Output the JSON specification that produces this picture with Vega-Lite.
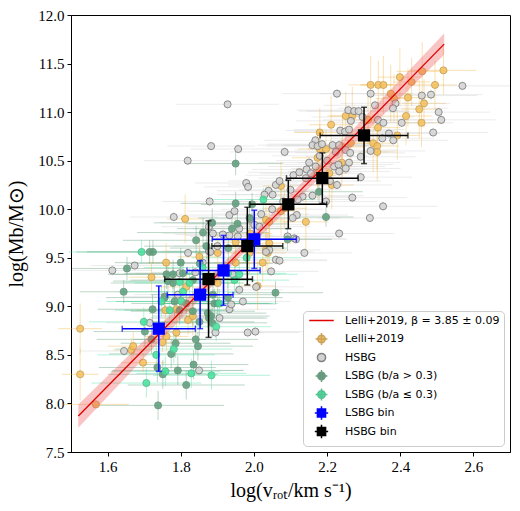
{
"$schema": "https://vega.github.io/schema/vega-lite/v6.json",
"width": 439, "height": 437,
"autosize": {"type": "none"},
"padding": {"left": 71, "top": 15, "right": 10, "bottom": 59},
"background": "white",
"config": {
 "view": {"stroke": "#000000", "strokeWidth": 1},
 "axis": {"grid": false, "labelFont": "Liberation Serif", "labelFontSize": 15, "labelColor": "#000", "tickColor": "#000", "domainColor": "#000", "tickSize": 4, "labelPadding": 3, "titleFont": "Liberation Serif", "titleFontSize": 20, "titleFontWeight": "normal", "titleColor": "#000"}
},
"datasets": {
 "pts": [
{"g":"L","x":1.525,"y":8.77,"xe":0.06,"ye":0.26},
{"g":"L","x":1.525,"y":8.30,"xe":0.05,"ye":0.27},
{"g":"L","x":1.568,"y":7.99,"xe":0.09,"ye":0.04},
{"g":"L","x":1.665,"y":8.55,"xe":0.05,"ye":0.12},
{"g":"L","x":1.670,"y":8.59,"xe":0.07,"ye":0.15},
{"g":"L","x":1.697,"y":8.42,"xe":0.06,"ye":0.1},
{"g":"L","x":1.750,"y":8.63,"xe":0.05,"ye":0.1},
{"g":"L","x":1.761,"y":8.69,"xe":0.06,"ye":0.15},
{"g":"L","x":1.788,"y":8.73,"xe":0.04,"ye":0.12},
{"g":"L","x":1.758,"y":8.96,"xe":0.08,"ye":0.15},
{"g":"L","x":1.788,"y":8.97,"xe":0.05,"ye":0.12},
{"g":"L","x":1.820,"y":8.86,"xe":0.06,"ye":0.15},
{"g":"L","x":1.833,"y":8.90,"xe":0.05,"ye":0.2},
{"g":"L","x":1.815,"y":9.20,"xe":0.07,"ye":0.18},
{"g":"L","x":1.720,"y":9.30,"xe":0.06,"ye":0.15},
{"g":"L","x":1.760,"y":9.45,"xe":0.05,"ye":0.2},
{"g":"L","x":1.812,"y":9.90,"xe":0.05,"ye":0.25},
{"g":"L","x":1.851,"y":9.51,"xe":0.06,"ye":0.2},
{"g":"L","x":1.901,"y":9.24,"xe":0.07,"ye":0.2},
{"g":"L","x":1.901,"y":9.55,"xe":0.06,"ye":0.2},
{"g":"L","x":1.950,"y":9.66,"xe":0.05,"ye":0.25},
{"g":"L","x":1.950,"y":9.45,"xe":0.06,"ye":0.2},
{"g":"L","x":1.988,"y":9.55,"xe":0.05,"ye":0.22},
{"g":"L","x":1.990,"y":9.75,"xe":0.06,"ye":0.2},
{"g":"L","x":2.010,"y":9.21,"xe":0.05,"ye":0.25},
{"g":"L","x":2.024,"y":9.45,"xe":0.06,"ye":0.2},
{"g":"L","x":2.033,"y":9.58,"xe":0.05,"ye":0.22},
{"g":"L","x":2.038,"y":9.55,"xe":0.05,"ye":0.2},
{"g":"L","x":2.042,"y":9.65,"xe":0.06,"ye":0.2},
{"g":"L","x":2.033,"y":9.89,"xe":0.05,"ye":0.25},
{"g":"L","x":2.042,"y":9.87,"xe":0.06,"ye":0.2},
{"g":"L","x":2.074,"y":9.98,"xe":0.05,"ye":0.25},
{"g":"L","x":2.083,"y":10.01,"xe":0.06,"ye":0.2},
{"g":"L","x":2.074,"y":10.24,"xe":0.05,"ye":0.25},
{"g":"L","x":2.142,"y":9.87,"xe":0.06,"ye":0.3},
{"g":"L","x":2.174,"y":10.35,"xe":0.05,"ye":0.25},
{"g":"L","x":2.175,"y":10.42,"xe":0.06,"ye":0.2},
{"g":"L","x":2.206,"y":10.37,"xe":0.05,"ye":0.3},
{"g":"L","x":2.213,"y":10.25,"xe":0.06,"ye":0.25},
{"g":"L","x":2.174,"y":10.53,"xe":0.07,"ye":0.3},
{"g":"L","x":2.240,"y":10.48,"xe":0.05,"ye":0.25},
{"g":"L","x":2.180,"y":10.62,"xe":0.06,"ye":0.25},
{"g":"L","x":2.197,"y":10.62,"xe":0.05,"ye":0.2},
{"g":"L","x":2.242,"y":10.64,"xe":0.06,"ye":0.3},
{"g":"L","x":2.265,"y":10.68,"xe":0.05,"ye":0.25},
{"g":"L","x":2.180,"y":10.79,"xe":0.07,"ye":0.25},
{"g":"L","x":2.211,"y":10.87,"xe":0.06,"ye":0.3},
{"g":"L","x":2.251,"y":10.96,"xe":0.05,"ye":0.25},
{"g":"L","x":2.269,"y":10.96,"xe":0.06,"ye":0.3},
{"g":"L","x":2.312,"y":10.92,"xe":0.05,"ye":0.25},
{"g":"L","x":2.339,"y":10.84,"xe":0.06,"ye":0.3},
{"g":"L","x":2.326,"y":10.68,"xe":0.05,"ye":0.3},
{"g":"L","x":2.337,"y":10.65,"xe":0.06,"ye":0.25},
{"g":"L","x":2.337,"y":10.59,"xe":0.05,"ye":0.3},
{"g":"L","x":2.392,"y":10.76,"xe":0.06,"ye":0.25},
{"g":"L","x":2.416,"y":10.96,"xe":0.07,"ye":0.3},
{"g":"L","x":2.458,"y":10.89,"xe":0.06,"ye":0.25},
{"g":"L","x":2.452,"y":11.03,"xe":0.05,"ye":0.3},
{"g":"L","x":2.465,"y":11.09,"xe":0.06,"ye":0.25},
{"g":"L","x":2.421,"y":11.15,"xe":0.07,"ye":0.3},
{"g":"L","x":2.374,"y":11.19,"xe":0.06,"ye":0.3},
{"g":"L","x":2.383,"y":11.14,"xe":0.05,"ye":0.25},
{"g":"L","x":2.319,"y":11.28,"xe":0.06,"ye":0.3},
{"g":"L","x":2.340,"y":11.28,"xe":0.05,"ye":0.25},
{"g":"L","x":2.354,"y":11.28,"xe":0.06,"ye":0.3},
{"g":"L","x":2.399,"y":11.36,"xe":0.06,"ye":0.3},
{"g":"L","x":2.431,"y":11.31,"xe":0.05,"ye":0.25},
{"g":"L","x":2.495,"y":11.28,"xe":0.06,"ye":0.25},
{"g":"L","x":2.460,"y":11.42,"xe":0.07,"ye":0.3},
{"g":"L","x":2.518,"y":11.43,"xe":0.09,"ye":0.25},
{"g":"H","x":1.928,"y":11.08,"xe":0.14,"ye":0.05},
{"g":"H","x":1.883,"y":10.65,"xe":0.12,"ye":0.05},
{"g":"H","x":1.957,"y":10.62,"xe":0.13,"ye":0.05},
{"g":"H","x":1.819,"y":10.50,"xe":0.12,"ye":0.05},
{"g":"H","x":2.084,"y":10.59,"xe":0.15,"ye":0.05},
{"g":"H","x":1.979,"y":10.27,"xe":0.14,"ye":0.05},
{"g":"H","x":1.984,"y":10.23,"xe":0.12,"ye":0.05},
{"g":"H","x":1.879,"y":10.08,"xe":0.13,"ye":0.05},
{"g":"H","x":1.781,"y":9.92,"xe":0.12,"ye":0.05},
{"g":"H","x":1.820,"y":9.55,"xe":0.12,"ye":0.05},
{"g":"H","x":1.877,"y":9.57,"xe":0.13,"ye":0.05},
{"g":"H","x":1.674,"y":9.42,"xe":0.12,"ye":0.05},
{"g":"H","x":1.613,"y":9.37,"xe":0.11,"ye":0.05},
{"g":"H","x":1.645,"y":8.54,"xe":0.12,"ye":0.05},
{"g":"H","x":1.850,"y":8.34,"xe":0.12,"ye":0.05},
{"g":"H","x":1.895,"y":8.73,"xe":0.13,"ye":0.05},
{"g":"H","x":1.983,"y":8.73,"xe":0.14,"ye":0.05},
{"g":"H","x":2.004,"y":8.74,"xe":0.13,"ye":0.05},
{"g":"H","x":1.906,"y":8.88,"xe":0.12,"ye":0.05},
{"g":"H","x":1.797,"y":9.34,"xe":0.12,"ye":0.05},
{"g":"H","x":1.942,"y":9.33,"xe":0.13,"ye":0.05},
{"g":"H","x":1.960,"y":9.17,"xe":0.12,"ye":0.05},
{"g":"H","x":2.006,"y":9.20,"xe":0.13,"ye":0.05},
{"g":"H","x":1.715,"y":8.83,"xe":0.12,"ye":0.05},
{"g":"H","x":2.570,"y":11.27,"xe":0.13,"ye":0.05},
{"g":"H","x":2.227,"y":11.19,"xe":0.15,"ye":0.05},
{"g":"H","x":2.319,"y":11.19,"xe":0.14,"ye":0.05},
{"g":"H","x":2.459,"y":11.17,"xe":0.15,"ye":0.05},
{"g":"H","x":2.484,"y":11.18,"xe":0.14,"ye":0.05},
{"g":"H","x":2.387,"y":11.09,"xe":0.15,"ye":0.05},
{"g":"H","x":2.331,"y":11.07,"xe":0.14,"ye":0.05},
{"g":"H","x":2.380,"y":11.04,"xe":0.15,"ye":0.05},
{"g":"H","x":2.505,"y":11.00,"xe":0.14,"ye":0.05},
{"g":"H","x":2.512,"y":10.92,"xe":0.15,"ye":0.05},
{"g":"H","x":2.404,"y":10.89,"xe":0.14,"ye":0.05},
{"g":"H","x":2.490,"y":10.79,"xe":0.15,"ye":0.05},
{"g":"H","x":2.258,"y":11.02,"xe":0.14,"ye":0.05},
{"g":"H","x":2.274,"y":11.01,"xe":0.15,"ye":0.05},
{"g":"H","x":2.286,"y":11.01,"xe":0.14,"ye":0.05},
{"g":"H","x":2.265,"y":10.91,"xe":0.15,"ye":0.05},
{"g":"H","x":2.297,"y":10.95,"xe":0.14,"ye":0.05},
{"g":"H","x":2.339,"y":10.92,"xe":0.15,"ye":0.05},
{"g":"H","x":2.354,"y":10.89,"xe":0.14,"ye":0.05},
{"g":"H","x":2.236,"y":10.81,"xe":0.15,"ye":0.05},
{"g":"H","x":2.249,"y":10.80,"xe":0.14,"ye":0.05},
{"g":"H","x":2.260,"y":10.82,"xe":0.15,"ye":0.05},
{"g":"H","x":2.369,"y":10.78,"xe":0.14,"ye":0.05},
{"g":"H","x":2.381,"y":10.71,"xe":0.15,"ye":0.05},
{"g":"H","x":2.351,"y":10.73,"xe":0.14,"ye":0.05},
{"g":"H","x":2.319,"y":10.60,"xe":0.15,"ye":0.05},
{"g":"H","x":2.168,"y":10.71,"xe":0.14,"ye":0.05},
{"g":"H","x":2.160,"y":10.66,"xe":0.15,"ye":0.05},
{"g":"H","x":2.174,"y":10.65,"xe":0.14,"ye":0.05},
{"g":"H","x":2.186,"y":10.67,"xe":0.15,"ye":0.05},
{"g":"H","x":2.215,"y":10.66,"xe":0.14,"ye":0.05},
{"g":"H","x":2.233,"y":10.66,"xe":0.15,"ye":0.05},
{"g":"H","x":2.251,"y":10.61,"xe":0.14,"ye":0.05},
{"g":"H","x":2.263,"y":10.58,"xe":0.15,"ye":0.05},
{"g":"H","x":2.224,"y":10.59,"xe":0.14,"ye":0.05},
{"g":"H","x":2.292,"y":10.54,"xe":0.15,"ye":0.05},
{"g":"H","x":2.151,"y":10.48,"xe":0.14,"ye":0.05},
{"g":"H","x":2.144,"y":10.41,"xe":0.15,"ye":0.05},
{"g":"H","x":2.260,"y":10.48,"xe":0.14,"ye":0.05},
{"g":"H","x":2.251,"y":10.42,"xe":0.15,"ye":0.05},
{"g":"H","x":2.233,"y":10.39,"xe":0.14,"ye":0.05},
{"g":"H","x":2.227,"y":10.25,"xe":0.15,"ye":0.05},
{"g":"H","x":2.208,"y":10.29,"xe":0.14,"ye":0.05},
{"g":"H","x":2.269,"y":10.12,"xe":0.15,"ye":0.05},
{"g":"H","x":2.292,"y":10.33,"xe":0.14,"ye":0.05},
{"g":"H","x":2.353,"y":10.03,"xe":0.15,"ye":0.05},
{"g":"H","x":2.317,"y":9.91,"xe":0.14,"ye":0.05},
{"g":"H","x":2.233,"y":9.75,"xe":0.15,"ye":0.05},
{"g":"H","x":2.197,"y":10.08,"xe":0.14,"ye":0.05},
{"g":"H","x":2.138,"y":9.55,"xe":0.13,"ye":0.05},
{"g":"H","x":2.110,"y":9.70,"xe":0.14,"ye":0.05},
{"g":"H","x":2.092,"y":9.72,"xe":0.13,"ye":0.05},
{"g":"H","x":2.219,"y":10.44,"xe":0.14,"ye":0.05},
{"g":"H","x":2.231,"y":10.46,"xe":0.15,"ye":0.05},
{"g":"H","x":2.040,"y":10.19,"xe":0.14,"ye":0.05},
{"g":"H","x":2.029,"y":10.15,"xe":0.13,"ye":0.05},
{"g":"H","x":2.051,"y":10.15,"xe":0.14,"ye":0.05},
{"g":"H","x":2.060,"y":10.25,"xe":0.13,"ye":0.05},
{"g":"H","x":2.070,"y":10.29,"xe":0.14,"ye":0.05},
{"g":"H","x":2.108,"y":10.35,"xe":0.13,"ye":0.05},
{"g":"H","x":2.124,"y":10.38,"xe":0.14,"ye":0.05},
{"g":"H","x":2.142,"y":10.32,"xe":0.13,"ye":0.05},
{"g":"H","x":2.156,"y":10.37,"xe":0.14,"ye":0.05},
{"g":"H","x":2.169,"y":10.44,"xe":0.13,"ye":0.05},
{"g":"H","x":2.117,"y":9.94,"xe":0.14,"ye":0.05},
{"g":"H","x":2.106,"y":9.91,"xe":0.13,"ye":0.05},
{"g":"H","x":2.060,"y":9.48,"xe":0.14,"ye":0.05},
{"g":"H","x":2.070,"y":9.47,"xe":0.13,"ye":0.05},
{"g":"H","x":2.042,"y":9.58,"xe":0.14,"ye":0.05},
{"g":"H","x":2.033,"y":9.56,"xe":0.13,"ye":0.05},
{"g":"H","x":1.888,"y":9.75,"xe":0.14,"ye":0.05},
{"g":"H","x":1.915,"y":9.74,"xe":0.13,"ye":0.05},
{"g":"H","x":1.933,"y":9.94,"xe":0.14,"ye":0.05},
{"g":"H","x":1.947,"y":9.98,"xe":0.13,"ye":0.05},
{"g":"H","x":1.883,"y":9.86,"xe":0.14,"ye":0.05},
{"g":"H","x":2.001,"y":9.84,"xe":0.13,"ye":0.05},
{"g":"H","x":2.015,"y":9.82,"xe":0.14,"ye":0.05},
{"g":"H","x":2.047,"y":9.36,"xe":0.13,"ye":0.05},
{"g":"H","x":2.160,"y":10.14,"xe":0.14,"ye":0.05},
{"g":"H","x":2.133,"y":10.13,"xe":0.13,"ye":0.05},
{"g":"H","x":2.115,"y":9.69,"xe":0.14,"ye":0.05},
{"g":"H","x":1.877,"y":9.82,"xe":0.13,"ye":0.05},
{"g":"H","x":1.756,"y":9.10,"xe":0.12,"ye":0.05},
{"g":"H","x":1.792,"y":9.12,"xe":0.12,"ye":0.05},
{"g":"H","x":1.933,"y":8.97,"xe":0.13,"ye":0.05},
{"g":"H","x":1.938,"y":9.02,"xe":0.12,"ye":0.05},
{"g":"H","x":1.970,"y":9.05,"xe":0.13,"ye":0.05},
{"g":"H","x":1.933,"y":9.73,"xe":0.12,"ye":0.05},
{"g":"H","x":1.956,"y":9.72,"xe":0.13,"ye":0.05},
{"g":"H","x":1.881,"y":9.56,"xe":0.12,"ye":0.05},
{"g":"H","x":2.020,"y":9.95,"xe":0.13,"ye":0.05},
{"g":"H","x":2.050,"y":10.00,"xe":0.14,"ye":0.05},
{"g":"H","x":2.080,"y":10.08,"xe":0.13,"ye":0.05},
{"g":"H","x":2.120,"y":10.10,"xe":0.14,"ye":0.05},
{"g":"H","x":1.990,"y":9.90,"xe":0.13,"ye":0.05},
{"g":"H","x":2.100,"y":10.20,"xe":0.14,"ye":0.05},
{"g":"H","x":2.180,"y":10.55,"xe":0.13,"ye":0.05},
{"g":"H","x":2.200,"y":10.50,"xe":0.14,"ye":0.05},
{"g":"H","x":1.960,"y":9.80,"xe":0.13,"ye":0.05},
{"g":"H","x":1.900,"y":9.62,"xe":0.12,"ye":0.05},
{"g":"H","x":1.860,"y":9.45,"xe":0.13,"ye":0.05},
{"g":"H","x":1.840,"y":9.35,"xe":0.12,"ye":0.05},
{"g":"D","x":1.950,"y":10.47,"xe":0.13,"ye":0.12},
{"g":"D","x":1.950,"y":10.06,"xe":0.15,"ye":0.12},
{"g":"D","x":1.995,"y":10.05,"xe":0.14,"ye":0.12},
{"g":"D","x":1.886,"y":9.86,"xe":0.16,"ye":0.15},
{"g":"D","x":1.861,"y":9.76,"xe":0.18,"ye":0.15},
{"g":"D","x":1.842,"y":9.68,"xe":0.2,"ye":0.15},
{"g":"D","x":1.715,"y":9.56,"xe":0.2,"ye":0.12},
{"g":"D","x":1.724,"y":9.56,"xe":0.18,"ye":0.12},
{"g":"D","x":1.653,"y":9.39,"xe":0.15,"ye":0.12},
{"g":"D","x":1.852,"y":9.44,"xe":0.2,"ye":0.15},
{"g":"D","x":1.644,"y":9.15,"xe":0.12,"ye":0.12},
{"g":"D","x":1.723,"y":8.97,"xe":0.15,"ye":0.15},
{"g":"D","x":1.702,"y":8.74,"xe":0.14,"ye":0.15},
{"g":"D","x":1.738,"y":7.98,"xe":0.18,"ye":0.15},
{"g":"D","x":1.736,"y":8.37,"xe":0.16,"ye":0.15},
{"g":"D","x":1.751,"y":8.30,"xe":0.15,"ye":0.15},
{"g":"D","x":1.774,"y":8.51,"xe":0.17,"ye":0.15},
{"g":"D","x":1.786,"y":8.62,"xe":0.15,"ye":0.15},
{"g":"D","x":1.792,"y":8.34,"xe":0.18,"ye":0.15},
{"g":"D","x":1.815,"y":8.19,"xe":0.16,"ye":0.15},
{"g":"D","x":1.835,"y":8.40,"xe":0.15,"ye":0.15},
{"g":"D","x":1.841,"y":8.66,"xe":0.17,"ye":0.15},
{"g":"D","x":1.847,"y":8.59,"xe":0.15,"ye":0.15},
{"g":"D","x":1.756,"y":9.09,"xe":0.16,"ye":0.15},
{"g":"D","x":1.797,"y":8.96,"xe":0.15,"ye":0.15},
{"g":"D","x":1.833,"y":8.95,"xe":0.17,"ye":0.15},
{"g":"D","x":1.851,"y":8.84,"xe":0.15,"ye":0.15},
{"g":"D","x":1.874,"y":8.93,"xe":0.16,"ye":0.15},
{"g":"D","x":1.901,"y":9.03,"xe":0.15,"ye":0.15},
{"g":"D","x":1.779,"y":9.24,"xe":0.17,"ye":0.15},
{"g":"D","x":1.761,"y":9.33,"xe":0.16,"ye":0.15},
{"g":"D","x":1.720,"y":8.66,"xe":0.15,"ye":0.15},
{"g":"D","x":2.197,"y":9.92,"xe":0.075,"ye":0.1},
{"g":"D","x":2.178,"y":10.18,"xe":0.12,"ye":0.12},
{"g":"D","x":2.059,"y":9.14,"xe":0.13,"ye":0.12},
{"g":"D","x":2.092,"y":9.69,"xe":0.12,"ye":0.12},
{"g":"D","x":1.886,"y":8.83,"xe":0.15,"ye":0.15},
{"g":"D","x":1.877,"y":8.88,"xe":0.16,"ye":0.15},
{"g":"D","x":1.779,"y":9.33,"xe":0.17,"ye":0.15},
{"g":"D","x":1.806,"y":9.34,"xe":0.16,"ye":0.15},
{"g":"D","x":1.765,"y":9.26,"xe":0.15,"ye":0.15},
{"g":"D","x":1.833,"y":9.27,"xe":0.17,"ye":0.15},
{"g":"D","x":1.783,"y":9.05,"xe":0.16,"ye":0.15},
{"g":"D","x":1.815,"y":9.03,"xe":0.15,"ye":0.15},
{"g":"D","x":1.883,"y":8.90,"xe":0.16,"ye":0.15},
{"g":"D","x":1.892,"y":9.03,"xe":0.15,"ye":0.15},
{"g":"D","x":1.888,"y":9.12,"xe":0.17,"ye":0.15},
{"g":"D","x":1.929,"y":9.09,"xe":0.15,"ye":0.15},
{"g":"D","x":1.988,"y":9.91,"xe":0.14,"ye":0.12},
{"g":"D","x":1.940,"y":9.80,"xe":0.15,"ye":0.12},
{"g":"D","x":1.955,"y":9.85,"xe":0.14,"ye":0.12},
{"g":"D","x":1.800,"y":9.45,"xe":0.18,"ye":0.15},
{"g":"D","x":1.870,"y":9.62,"xe":0.17,"ye":0.15},
{"g":"D","x":1.930,"y":9.60,"xe":0.16,"ye":0.15},
{"g":"B","x":2.026,"y":10.10,"xe":0.14,"ye":0.12},
{"g":"B","x":1.693,"y":9.56,"xe":0.2,"ye":0.12},
{"g":"B","x":1.699,"y":8.84,"xe":0.15,"ye":0.15},
{"g":"B","x":1.706,"y":8.21,"xe":0.15,"ye":0.15},
{"g":"B","x":1.733,"y":8.50,"xe":0.16,"ye":0.15},
{"g":"B","x":1.758,"y":8.33,"xe":0.15,"ye":0.15},
{"g":"B","x":1.781,"y":8.56,"xe":0.16,"ye":0.15},
{"g":"B","x":1.829,"y":8.31,"xe":0.15,"ye":0.15},
{"g":"B","x":1.884,"y":8.29,"xe":0.16,"ye":0.15},
{"g":"B","x":1.770,"y":8.96,"xe":0.15,"ye":0.15},
{"g":"B","x":1.802,"y":9.05,"xe":0.16,"ye":0.15},
{"g":"B","x":1.824,"y":9.24,"xe":0.15,"ye":0.15},
{"g":"B","x":1.906,"y":9.03,"xe":0.16,"ye":0.15},
{"g":"B","x":1.797,"y":9.25,"xe":0.15,"ye":0.15},
{"g":"B","x":1.806,"y":9.15,"xe":0.16,"ye":0.15},
{"g":"B","x":1.747,"y":9.05,"xe":0.15,"ye":0.15},
{"g":"B","x":1.929,"y":9.34,"xe":0.16,"ye":0.15},
{"g":"B","x":1.947,"y":9.27,"xe":0.15,"ye":0.15},
{"g":"B","x":1.960,"y":9.33,"xe":0.16,"ye":0.15},
{"g":"B","x":1.897,"y":8.79,"xe":0.15,"ye":0.15},
{"g":"B","x":1.860,"y":9.40,"xe":0.16,"ye":0.15},
{"g":"B","x":1.980,"y":9.50,"xe":0.15,"ye":0.15}
 ],
 "fit": [
  {"x":1.52,"y":7.87,"lo":7.75,"hi":7.99},
  {"x":1.76,"y":8.79,"lo":8.71,"hi":8.87},
  {"x":2.0,"y":9.71,"lo":9.66,"hi":9.76},
  {"x":2.26,"y":10.70,"lo":10.62,"hi":10.78},
  {"x":2.52,"y":11.70,"lo":11.59,"hi":11.81}
 ],
 "bins": [
  {"g":"LB","x":1.740,"y":8.77,"xe":0.10,"ye":0.44},
  {"g":"LB","x":1.853,"y":9.12,"xe":0.09,"ye":0.35},
  {"g":"LB","x":1.917,"y":9.37,"xe":0.10,"ye":0.36},
  {"g":"LB","x":2.001,"y":9.69,"xe":0.115,"ye":0.30},
  {"g":"HB","x":1.876,"y":9.28,"xe":0.12,"ye":0.60},
  {"g":"HB","x":1.982,"y":9.62,"xe":0.097,"ye":0.40},
  {"g":"HB","x":2.094,"y":10.05,"xe":0.105,"ye":0.25},
  {"g":"HB","x":2.187,"y":10.32,"xe":0.098,"ye":0.26},
  {"g":"HB","x":2.301,"y":10.76,"xe":0.12,"ye":0.29}
 ]
},
"layer": [
 {
  "data": {"name": "pts"},
  "mark": {"type": "errorbar", "opacity": 0.4, "thickness": 1},
  "encoding": {
   "x": {"field": "x", "type": "quantitative", "title": "log(vᵣₒₜ/km s⁻¹)", "scale": {"domain": [1.5, 2.7], "nice": false, "zero": false}, "axis": {"values": [1.6,1.8,2.0,2.2,2.4,2.6], "format": ".1f", "titlePadding": 6}},
   "xError": {"field": "xe"},
   "y": {"field": "y", "type": "quantitative", "title": "log(Mb/M⊙)", "scale": {"domain": [7.5, 12.0], "nice": false, "zero": false}, "axis": {"values": [7.5,8.0,8.5,9.0,9.5,10.0,10.5,11.0,11.5,12.0], "format": ".1f", "titlePadding": 11}},
   "color": {"field": "g", "type": "nominal", "scale": {"domain": ["L","H","D","B","LB","HB"], "range": ["#efb440","#cfcfcf","#5a9a76","#40e0a0","#0000ff","#000000"]}, "legend": null}
  }
 },
 {
  "data": {"name": "pts"},
  "mark": {"type": "errorbar", "opacity": 0.4, "thickness": 1},
  "encoding": {
   "x": {"field": "x", "type": "quantitative", "title": "log(vᵣₒₜ/km s⁻¹)"},
   "y": {"field": "y", "type": "quantitative", "title": "log(Mb/M⊙)"},
   "yError": {"field": "ye"},
   "color": {"field": "g", "type": "nominal", "scale": {"domain": ["L","H","D","B","LB","HB"], "range": ["#efb440","#cfcfcf","#5a9a76","#40e0a0","#0000ff","#000000"]}, "legend": null}
  }
 },
 {
  "data": {"name": "pts"},
  "transform": [{"filter": "false"}],
  "mark": {"type": "point", "filled": true, "size": 50, "strokeWidth": 1.5, "opacity": 1},
  "encoding": {
   "x": {"field": "x", "type": "quantitative", "title": "log(vᵣₒₜ/km s⁻¹)"},
   "y": {"field": "y", "type": "quantitative", "title": "log(Mb/M⊙)"},
   "fill": {"field": "g", "type": "nominal",
     "scale": {"domain": ["fit","L","H","D","B","LB","HB"], "range": ["transparent","#f3bf5a","#d3d3d3","#5d9c7a","#45e09c","#0000ff","#000000"]},
     "legend": {"title": null, "orient": "bottom-right", "offset": 6, "padding": 4, "fillColor": "#ffffff", "strokeColor": "#cccccc", "cornerRadius": 4,
       "labelFont": "DejaVu Sans", "labelFontSize": 11, "labelColor": "#000", "labelLimit": 300, "symbolSize": 55, "symbolOffset": 9, "labelOffset": 18, "rowPadding": -2.5, "symbolStrokeWidth": 1.5, "symbolOpacity": 1,
       "labelExpr": "datum.label=='fit'?'Lelli+2019, β = 3.85 ± 0.09':datum.label=='L'?'Lelli+2019':datum.label=='H'?'HSBG':datum.label=='D'?'LSBG (b/a > 0.3)':datum.label=='B'?'LSBG (b/a ≤ 0.3)':datum.label=='LB'?'LSBG bin':'HSBG bin'"}},
   "stroke": {"field": "g", "type": "nominal",
     "scale": {"domain": ["fit","L","H","D","B","LB","HB"], "range": ["#e00000","#c9a15a","#7f7f7f","#6d9a82","#55c090","#0000ff","#000000"]}},
   "shape": {"field": "g", "type": "nominal",
     "scale": {"domain": ["fit","L","H","D","B","LB","HB"], "range": [
       "M0,-1.9L0,-1.9M0,1.9L0,1.9M-3.3,0H3.3",
       "M0,-1.9L0,-1.9M0,1.9L0,1.9M-1.6,0H1.6M0,-1.6V1.6M1,0A1,1,0,1,1,-1,0A1,1,0,1,1,1,0Z",
       "M0,-1.9L0,-1.9M0,1.9L0,1.9M1.1,0A1.1,1.1,0,1,1,-1.1,0A1.1,1.1,0,1,1,1.1,0Z",
       "M0,-1.9L0,-1.9M0,1.9L0,1.9M-1.6,0H1.6M0,-1.6V1.6M1,0A1,1,0,1,1,-1,0A1,1,0,1,1,1,0Z",
       "M0,-1.9L0,-1.9M0,1.9L0,1.9M-1.6,0H1.6M0,-1.6V1.6M1,0A1,1,0,1,1,-1,0A1,1,0,1,1,1,0Z",
       "M0,-1.9L0,-1.9M0,1.9L0,1.9M-1.8,0H1.8M0,-1.8V1.8M-1.1,-1.1H1.1V1.1H-1.1Z",
       "M0,-1.9L0,-1.9M0,1.9L0,1.9M-1.8,0H1.8M0,-1.8V1.8M-1.1,-1.1H1.1V1.1H-1.1Z"]}}
  }
 },
 {
  "data": {"name": "pts"},
  "mark": {"type": "point", "filled": true, "size": 50, "strokeWidth": 0.9, "opacity": 1, "fillOpacity": 0.85},
  "encoding": {
   "x": {"field": "x", "type": "quantitative", "title": "log(vᵣₒₜ/km s⁻¹)"},
   "y": {"field": "y", "type": "quantitative", "title": "log(Mb/M⊙)"},
   "fill": {"field": "g", "type": "nominal",
     "scale": {"domain": ["fit","L","H","D","B","LB","HB"], "range": ["transparent","#f3bf5a","#d3d3d3","#5d9c7a","#45e09c","#0000ff","#000000"]}},
   "stroke": {"field": "g", "type": "nominal",
     "scale": {"domain": ["fit","L","H","D","B","LB","HB"], "range": ["#e00000","#c9a15a","#7f7f7f","#6d9a82","#55c090","#0000ff","#000000"]}}
  }
 },
 {
  "data": {"name": "fit"},
  "mark": {"type": "area", "color": "#ef5555", "opacity": 0.35},
  "encoding": {
   "x": {"field": "x", "type": "quantitative", "title": "log(vᵣₒₜ/km s⁻¹)"},
   "y": {"field": "lo", "type": "quantitative", "title": "log(Mb/M⊙)"},
   "y2": {"field": "hi"}
  }
 },
 {
  "data": {"name": "fit"},
  "mark": {"type": "line", "color": "#e00000", "strokeWidth": 1.3},
  "encoding": {
   "x": {"field": "x", "type": "quantitative", "title": "log(vᵣₒₜ/km s⁻¹)"},
   "y": {"field": "y", "type": "quantitative", "title": "log(Mb/M⊙)"}
  }
 },
 {
  "data": {"name": "bins"},
  "mark": {"type": "errorbar", "ticks": true, "thickness": 1.5, "size": 6},
  "encoding": {
   "x": {"field": "x", "type": "quantitative", "title": "log(vᵣₒₜ/km s⁻¹)"},
   "xError": {"field": "xe"},
   "y": {"field": "y", "type": "quantitative", "title": "log(Mb/M⊙)"},
   "color": {"field": "g", "type": "nominal", "scale": {"domain": ["L","H","D","B","LB","HB"], "range": ["#efb440","#cfcfcf","#5a9a76","#40e0a0","#0000ff","#000000"]}, "legend": null}
  }
 },
 {
  "data": {"name": "bins"},
  "mark": {"type": "errorbar", "ticks": true, "thickness": 1.5, "size": 6},
  "encoding": {
   "x": {"field": "x", "type": "quantitative", "title": "log(vᵣₒₜ/km s⁻¹)"},
   "y": {"field": "y", "type": "quantitative", "title": "log(Mb/M⊙)"},
   "yError": {"field": "ye"},
   "color": {"field": "g", "type": "nominal", "scale": {"domain": ["L","H","D","B","LB","HB"], "range": ["#efb440","#cfcfcf","#5a9a76","#40e0a0","#0000ff","#000000"]}, "legend": null}
  }
 },
 {
  "data": {"name": "bins"},
  "mark": {"type": "square", "size": 150, "opacity": 1},
  "encoding": {
   "x": {"field": "x", "type": "quantitative", "title": "log(vᵣₒₜ/km s⁻¹)"},
   "y": {"field": "y", "type": "quantitative", "title": "log(Mb/M⊙)"},
   "color": {"field": "g", "type": "nominal", "scale": {"domain": ["L","H","D","B","LB","HB"], "range": ["#efb440","#cfcfcf","#5a9a76","#40e0a0","#0000ff","#000000"]}, "legend": null}
  }
 }
]
}
